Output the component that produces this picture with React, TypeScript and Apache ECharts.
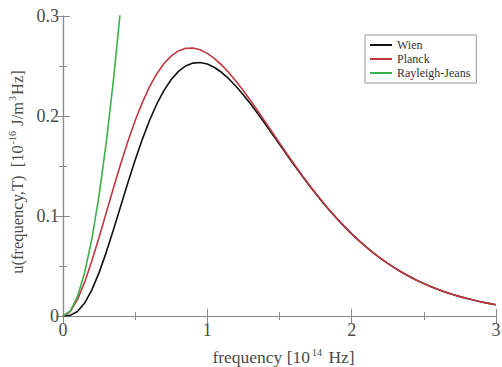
import React, { useEffect, useRef } from "react";
import * as echarts from "echarts";

const frequency = [
  0, 0.05, 0.1, 0.15, 0.2, 0.25, 0.3, 0.35, 0.4, 0.45, 0.5, 0.55, 0.6, 0.65, 0.7, 0.75, 0.8, 0.85, 0.9, 0.95,
  1.0, 1.05, 1.1, 1.15, 1.2, 1.25, 1.3, 1.35, 1.4, 1.45, 1.5, 1.55, 1.6, 1.65, 1.7, 1.75, 1.8, 1.85, 1.9, 1.95,
  2.0, 2.05, 2.1, 2.15, 2.2, 2.25, 2.3, 2.35, 2.4, 2.45, 2.5, 2.55, 2.6, 2.65, 2.7, 2.75, 2.8, 2.85, 2.9, 2.95, 3.0,
];
const planck = [
  0, 0.00445, 0.01639, 0.03386, 0.05515, 0.07879, 0.10353, 0.12832, 0.15232, 0.17485, 0.19542, 0.21366, 0.22932, 0.2423, 0.25255, 0.26012, 0.2651, 0.26765, 0.26794, 0.26619,
  0.26262, 0.25744, 0.2509, 0.24321, 0.23458, 0.2252, 0.21527, 0.20495, 0.1944, 0.18373, 0.17308, 0.16253, 0.15218, 0.1421, 0.13233, 0.12293, 0.11393, 0.10535, 0.09722, 0.08953,
  0.08228, 0.07549, 0.06914, 0.06321, 0.0577, 0.0526, 0.04787, 0.0435, 0.03949, 0.03579, 0.0324, 0.0293, 0.02647, 0.02388, 0.02152, 0.01938, 0.01743, 0.01566, 0.01406, 0.01261, 0.0113,
];
const wien = [
  0, 0.00066, 0.00449, 0.01291, 0.02607, 0.04339, 0.06389, 0.08645, 0.10997, 0.13343, 0.15597, 0.1769, 0.1957, 0.21203, 0.22567, 0.23652, 0.24461, 0.25002, 0.2529, 0.25346,
  0.25191, 0.2485, 0.24347, 0.23707, 0.22953, 0.22108, 0.21191, 0.20223, 0.19219, 0.18196, 0.17165, 0.16139, 0.15127, 0.14137, 0.13176, 0.12248, 0.11357, 0.10507, 0.09699, 0.08935,
  0.08215, 0.07538, 0.06905, 0.06315, 0.05765, 0.05256, 0.04784, 0.04348, 0.03947, 0.03578, 0.03239, 0.02929, 0.02646, 0.02387, 0.02152, 0.01937, 0.01743, 0.01566, 0.01406, 0.01261, 0.0113,
];
const rjFrequency = [0, 0.05, 0.1, 0.15, 0.2, 0.25, 0.3, 0.35, 0.4, 0.45];
const rayleighJeans = [0, 0.0048, 0.0193, 0.0435, 0.0772, 0.1207, 0.1738, 0.2366, 0.309, 0.391];
const xTicks = [0, 1, 2, 3];
const yTicks = [0, 0.1, 0.2, 0.3];

const FONT = "Times New Roman, Liberation Serif, serif";
const TXT = "#4a4a4a";
const FRAME = "#8a8a8a";

export default function App() {
  const ref = useRef<HTMLDivElement>(null);
  useEffect(() => {
    if (!ref.current) return;
    const chart = echarts.init(ref.current, undefined, { renderer: "svg" });
    const zip = (xs: number[], ys: number[]) => xs.map((x, i) => [x, ys[i]]);
    const axisCommon = {
      type: "value" as const,
      axisLine: { show: true, lineStyle: { color: FRAME, width: 1.2 } },
      axisTick: { show: true, inside: true, length: 7, lineStyle: { color: FRAME } },
      minorTick: { show: true, splitNumber: 2, length: 4, lineStyle: { color: FRAME } },
      splitLine: { show: false },
    };
    chart.setOption({
      animation: false,
      backgroundColor: "#ffffff",
      textStyle: { fontFamily: FONT },
      grid: { left: 63, right: 6, top: 16, bottom: 51, containLabel: false, outerBoundsMode: "none" },
      legend: {
        orient: "vertical",
        left: 365,
        top: 35,
        icon: "rect",
        itemWidth: 22,
        itemHeight: 2,
        itemGap: 2,
        padding: [4, 6, 4, 5],
        borderColor: "#999",
        borderWidth: 1,
        backgroundColor: "#fff",
        textStyle: { fontFamily: FONT, fontSize: 12, color: "#333", lineHeight: 12 },
        data: ["Wien", "Planck", "Rayleigh-Jeans"],
      },
      xAxis: [
        {
          ...axisCommon,
          min: 0,
          max: 3,
          interval: 1,
          position: "bottom",
          axisLabel: {
            fontFamily: FONT,
            fontSize: 18,
            color: TXT,
            margin: 5,
            formatter: (v: number) => (xTicks.includes(v) ? String(v) : ""),
          },
          name: "{a|frequency [10}{s|14}{a| Hz]}",
          nameLocation: "middle",
          nameGap: 31,
          nameTextStyle: {
            fontFamily: FONT,
            padding: [0, 0, 0, 8],
            rich: {
              a: { fontFamily: FONT, fontSize: 17.5, color: TXT },
              s: { fontFamily: FONT, fontSize: 10, color: TXT, verticalAlign: "top", padding: [0, 2, 9, 2] },
            },
          },
        },
        {
          ...axisCommon,
          min: 0,
          max: 3,
          interval: 1,
          position: "top",
          axisLabel: { show: false },
        },
      ],
      yAxis: [
        {
          ...axisCommon,
          min: 0,
          max: 0.3,
          interval: 0.1,
          position: "left",
          axisLabel: {
            fontFamily: FONT,
            fontSize: 18,
            color: TXT,
            margin: 4,
            formatter: (v: number) => {
              const r = Math.round(v * 10) / 10;
              return yTicks.includes(r) ? String(r) : "";
            },
          },
          name: "{a|u(frequency,T)  [10}{s|-16}{a| J/m}{s|3}{a|Hz]}",
          nameLocation: "middle",
          nameGap: 33,
          nameRotate: 90,
          nameTextStyle: {
            fontFamily: FONT,
            padding: [0, 12, 0, 0],
            rich: {
              a: { fontFamily: FONT, fontSize: 16.5, color: TXT },
              s: { fontFamily: FONT, fontSize: 10, color: TXT, verticalAlign: "top", padding: [0, 1, 9, 1] },
            },
          },
        },
        {
          ...axisCommon,
          min: 0,
          max: 0.3,
          interval: 0.1,
          position: "right",
          axisLabel: { show: false },
        },
      ],
      series: [
        {
          name: "Wien",
          type: "line",
          data: zip(frequency, wien),
          smooth: false,
          symbol: "none",
          clip: true,
          lineStyle: { color: "#111111", width: 1.6, join: "round" },
          itemStyle: { color: "#111111" },
        },
        {
          name: "Planck",
          type: "line",
          data: zip(frequency, planck),
          smooth: false,
          symbol: "none",
          clip: true,
          lineStyle: { color: "#c0393f", width: 1.6, join: "round" },
          itemStyle: { color: "#c0393f" },
        },
        {
          name: "Rayleigh-Jeans",
          type: "line",
          data: zip(rjFrequency, rayleighJeans),
          smooth: false,
          symbol: "none",
          clip: true,
          lineStyle: { color: "#3cb04a", width: 1.6, join: "round" },
          itemStyle: { color: "#3cb04a" },
        },
      ],
    });
    return () => chart.dispose();
  }, []);
  return <div ref={ref} style={{ width: 502, height: 367, position: "fixed", left: 0, top: 0 }} />;
}
